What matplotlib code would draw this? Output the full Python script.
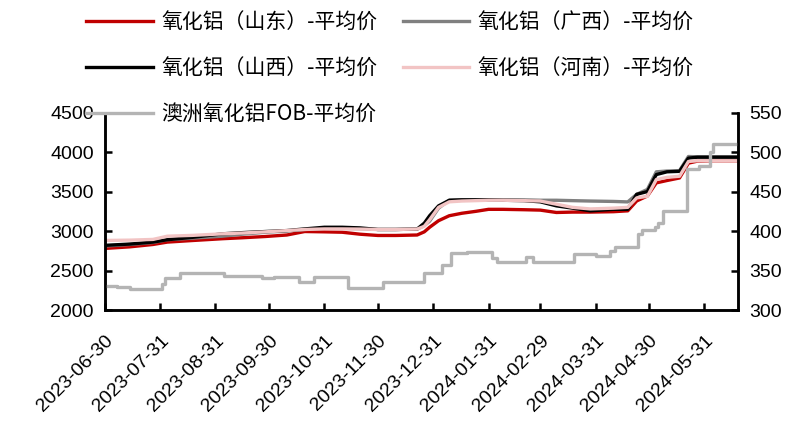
import matplotlib
matplotlib.use('Agg')
import matplotlib.pyplot as plt
import matplotlib.dates as mdates
import pandas as pd

plt.rcParams['font.family'] = ['Liberation Sans', 'Noto Sans CJK SC', 'DejaVu Sans']

# fechas de los puntos de las series domesticas
fechas = pd.to_datetime([
    '2023-06-30', '2023-07-14', '2023-07-27', '2023-08-04', '2023-08-18',
    '2023-09-04', '2023-09-15', '2023-09-28', '2023-10-10', '2023-10-20',
    '2023-10-31', '2023-11-10', '2023-11-20', '2023-11-30', '2023-12-10',
    '2023-12-22', '2023-12-26', '2023-12-29', '2024-01-03', '2024-01-09',
    '2024-01-16', '2024-01-24', '2024-01-31', '2024-02-08', '2024-02-20',
    '2024-02-29', '2024-03-09', '2024-03-18', '2024-03-28', '2024-04-10',
    '2024-04-18', '2024-04-23', '2024-04-29', '2024-05-04', '2024-05-10',
    '2024-05-17', '2024-05-22', '2024-05-27', '2024-06-05', '2024-06-19'])

shandong = [2780, 2800, 2830, 2860, 2880, 2903, 2915, 2931, 2950, 2994,
            2990, 2985, 2960, 2944, 2944, 2950, 2990, 3048, 3131, 3194,
            3225, 3250, 3275, 3275, 3270, 3265, 3235, 3240, 3240, 3245,
            3256, 3381, 3444, 3610, 3640, 3672, 3860, 3885, 3890, 3890]
guangxi = [2810, 2830, 2855, 2890, 2910, 2935, 2960, 2985, 3000, 3020,
           3035, 3035, 3030, 3020, 3020, 3025, 3070, 3125, 3290, 3390,
           3395, 3395, 3395, 3395, 3395, 3390, 3390, 3385, 3380, 3375,
           3369, 3465, 3527, 3750, 3760, 3765, 3944, 3940, 3940, 3940]
shanxi = [2819, 2835, 2860, 2890, 2920, 2965, 2980, 2994, 3006, 3027,
          3048, 3048, 3040, 3020, 3020, 3025, 3100, 3194, 3319, 3390,
          3395, 3395, 3395, 3390, 3385, 3370, 3319, 3290, 3256, 3275,
          3275, 3465, 3500, 3715, 3750, 3756, 3923, 3935, 3935, 3935]
henan = [2881, 2885, 2894, 2935, 2945, 2965, 2975, 2990, 3006, 3020,
         3027, 3027, 3025, 3020, 3020, 3025, 3060, 3144, 3300, 3370,
         3380, 3385, 3390, 3390, 3385, 3380, 3340, 3300, 3280, 3290,
         3300, 3420, 3440, 3652, 3680, 3694, 3881, 3890, 3890, 3890]

# FOB Australia (eje derecho), escalonado
fechas_fob = pd.to_datetime([
    '2023-06-30', '2023-07-07', '2023-07-14', '2023-07-27', '2023-08-01',
    '2023-08-03', '2023-08-11', '2023-09-05', '2023-09-26', '2023-10-03',
    '2023-10-17', '2023-10-25', '2023-11-13', '2023-12-03', '2023-12-26',
    '2024-01-05', '2024-01-10', '2024-01-19', '2024-02-02', '2024-02-05',
    '2024-02-21', '2024-02-25', '2024-03-19', '2024-03-31', '2024-04-08',
    '2024-04-11', '2024-04-24', '2024-04-26', '2024-05-03', '2024-05-05',
    '2024-05-08', '2024-05-21', '2024-05-28', '2024-06-03', '2024-06-05',
    '2024-06-19'])
fob = [331, 329, 327, 326, 333, 341, 347, 343, 341, 342,
       336, 342, 328, 336, 347, 357, 372, 374, 366, 361,
       367, 361, 371, 369, 375, 380, 396, 401, 405, 410,
       426, 478, 482, 500, 510, 510]

ticks_x = pd.to_datetime(['2023-06-30', '2023-07-31', '2023-08-31', '2023-09-30',
                          '2023-10-31', '2023-11-30', '2023-12-31', '2024-01-31',
                          '2024-02-29', '2024-03-31', '2024-04-30', '2024-05-31'])

cjk = ['Noto Sans CJK SC', 'DejaVu Sans']

fig = plt.figure(figsize=(8, 4.33), dpi=100)
ax = fig.add_axes([0.131, 0.284, 0.792, 0.456])
ax2 = ax.twinx()

l1, = ax.plot(fechas, shandong, color='#C00000', lw=2.4)
l2, = ax.plot(fechas, guangxi, color='#808080', lw=2.4)
l3, = ax.plot(fechas, shanxi, color='#000000', lw=2.4)
l4, = ax.plot(fechas, henan, color='#F2C4C4', lw=2.4)
l5, = ax2.plot(fechas_fob, fob, color='#B4B4B4', lw=2.4, drawstyle='steps-post')

ax.set_ylim(2000, 4500)
ax.set_yticks(range(2000, 4501, 500))
ax2.set_ylim(300, 550)
ax2.set_yticks(range(300, 551, 50))
ax.set_xlim(pd.Timestamp('2023-06-30'), pd.Timestamp('2024-06-19'))
ax.set_xticks(ticks_x)
ax.xaxis.set_major_formatter(mdates.DateFormatter('%Y-%m-%d'))
for lab in ax.get_xticklabels():
    lab.set_rotation(45)
    lab.set_ha('right')
    lab.set_va('top')
    lab.set_rotation_mode('anchor')

for a in (ax, ax2):
    a.spines['top'].set_visible(False)
    for s in ('left', 'right', 'bottom'):
        a.spines[s].set_linewidth(1.8)
    a.tick_params(direction='in', length=5, width=1.8, labelsize=14, pad=8)
ax.tick_params(axis='x', pad=16)

etiquetas = ['氧化铝（山东）-平均价', '氧化铝（山西）-平均价', '澳洲氧化铝FOB-平均价',
             '氧化铝（广西）-平均价', '氧化铝（河南）-平均价']
fig.legend([l1, l3, l5, l2, l4], etiquetas, ncol=2, loc='upper left',
           bbox_to_anchor=(0.108, 0.973), frameon=False, borderpad=0,
           borderaxespad=0, handlelength=3.2, handletextpad=0.4,
           columnspacing=1.2, labelspacing=1.15,
           prop={'family': cjk, 'size': 15})

fig.savefig('out.png', dpi=100)
